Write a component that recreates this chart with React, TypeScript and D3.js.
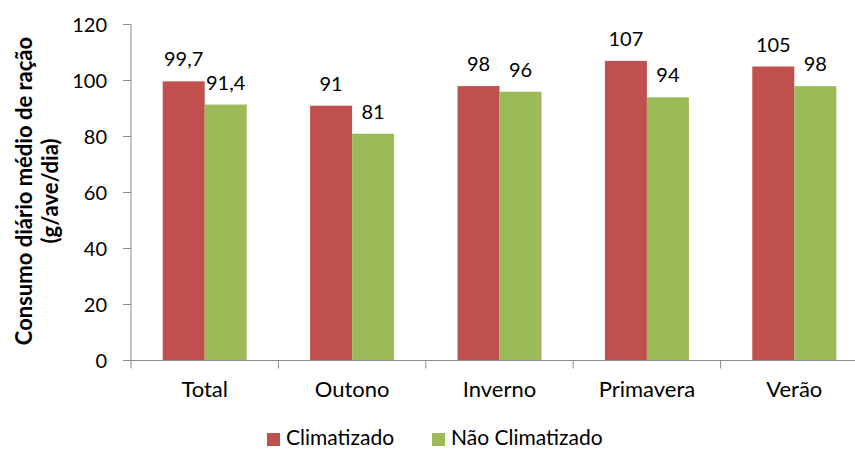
import React from "react";
import * as d3 from "d3";

const categories = ["Total", "Outono", "Inverno", "Primavera", "Verão"];
const climatizado = [99.7, 91, 98, 107, 105];
const naoClimatizado = [91.4, 81, 96, 94, 98];
const climatizadoLabels = ["99,7", "91", "98", "107", "105"];
const naoClimatizadoLabels = ["91,4", "81", "96", "94", "98"];
const yTicks = [0, 20, 40, 60, 80, 100, 120];
const seriesNames = ["Climatizado", "Não Climatizado"];
const colors = ["#C0504D", "#9BBB59"];

const W = 855;
const H = 450;
const left = 131;
const top = 24.5;
const bottom = 360.5;
const band = 147.4;
const font = "Lato, 'Open Sans', sans-serif";

export default function App() {
  const x = d3
    .scaleBand<string>()
    .domain(categories)
    .range([left, left + band * categories.length])
    .paddingInner(0)
    .paddingOuter(0);
  const inner = d3
    .scaleBand<number>()
    .domain([0, 1])
    .range([0, x.bandwidth()])
    .paddingOuter(0.755)
    .paddingInner(0);
  const y = d3.scaleLinear().domain([0, 120]).range([bottom, top]);
  const series = [climatizado, naoClimatizado];
  const labels = [climatizadoLabels, naoClimatizadoLabels];
  const axisColor = "#8C8C8C";

  return (
    <svg width={W} height={H} style={{ display: "block", position: "absolute", left: 0, top: 0 }} fontFamily={font}>
      <rect width={W} height={H} fill="#fff" />
      {series.map((vals, s) =>
        vals.map((v, i) => {
          const bx = (x(categories[i]) as number) + (inner(s) as number);
          return (
            <g key={`${s}-${i}`}>
              <rect x={bx} y={y(v)} width={inner.bandwidth()} height={bottom - y(v)} fill={colors[s]} />
              <text x={bx + inner.bandwidth() / 2} y={y(v) - 15} textAnchor="middle" fontSize={20} fill="#000">
                {labels[s][i]}
              </text>
            </g>
          );
        })
      )}
      {/* y axis */}
      <line x1={left} x2={left} y1={top} y2={bottom} stroke={axisColor} strokeWidth={1} />
      {yTicks.map((t) => (
        <g key={t}>
          <line x1={left - 8} x2={left} y1={y(t)} y2={y(t)} stroke={axisColor} />
          <text x={left - 24} y={y(t)} dy="0.36em" textAnchor="end" fontSize={20} fill="#000">
            {t}
          </text>
        </g>
      ))}
      {/* x axis */}
      <line x1={left} x2={left + band * categories.length} y1={bottom} y2={bottom} stroke={axisColor} />
      {d3.range(categories.length + 1).map((i) => (
        <line key={i} x1={left + band * i} x2={left + band * i} y1={bottom} y2={bottom + 8} stroke={axisColor} />
      ))}
      {categories.map((c) => (
        <text key={c} x={(x(c) as number) + x.bandwidth() / 2} y={397} textAnchor="middle" fontSize={22} fill="#000">
          {c}
        </text>
      ))}
      {/* y title */}
      <g transform="translate(0,191) rotate(-90)">
        <text x={0} y={24} dy="0.36em" textAnchor="middle" fontSize={22} fontWeight="bold" fill="#000">
          Consumo diário médio de ração
        </text>
        <text x={0} y={50} dy="0.36em" textAnchor="middle" fontSize={22} fontWeight="bold" fill="#000">
          (g/ave/dia)
        </text>
      </g>
      {/* legend */}
      {seriesNames.map((n, i) => {
        const lx = i === 0 ? 267 : 432;
        return (
          <g key={n}>
            <rect x={lx} y={433} width={13} height={13} fill={colors[i]} />
            <text x={lx + 19} y={445} fontSize={21} fill="#000">
              {n}
            </text>
          </g>
        );
      })}
    </svg>
  );
}
